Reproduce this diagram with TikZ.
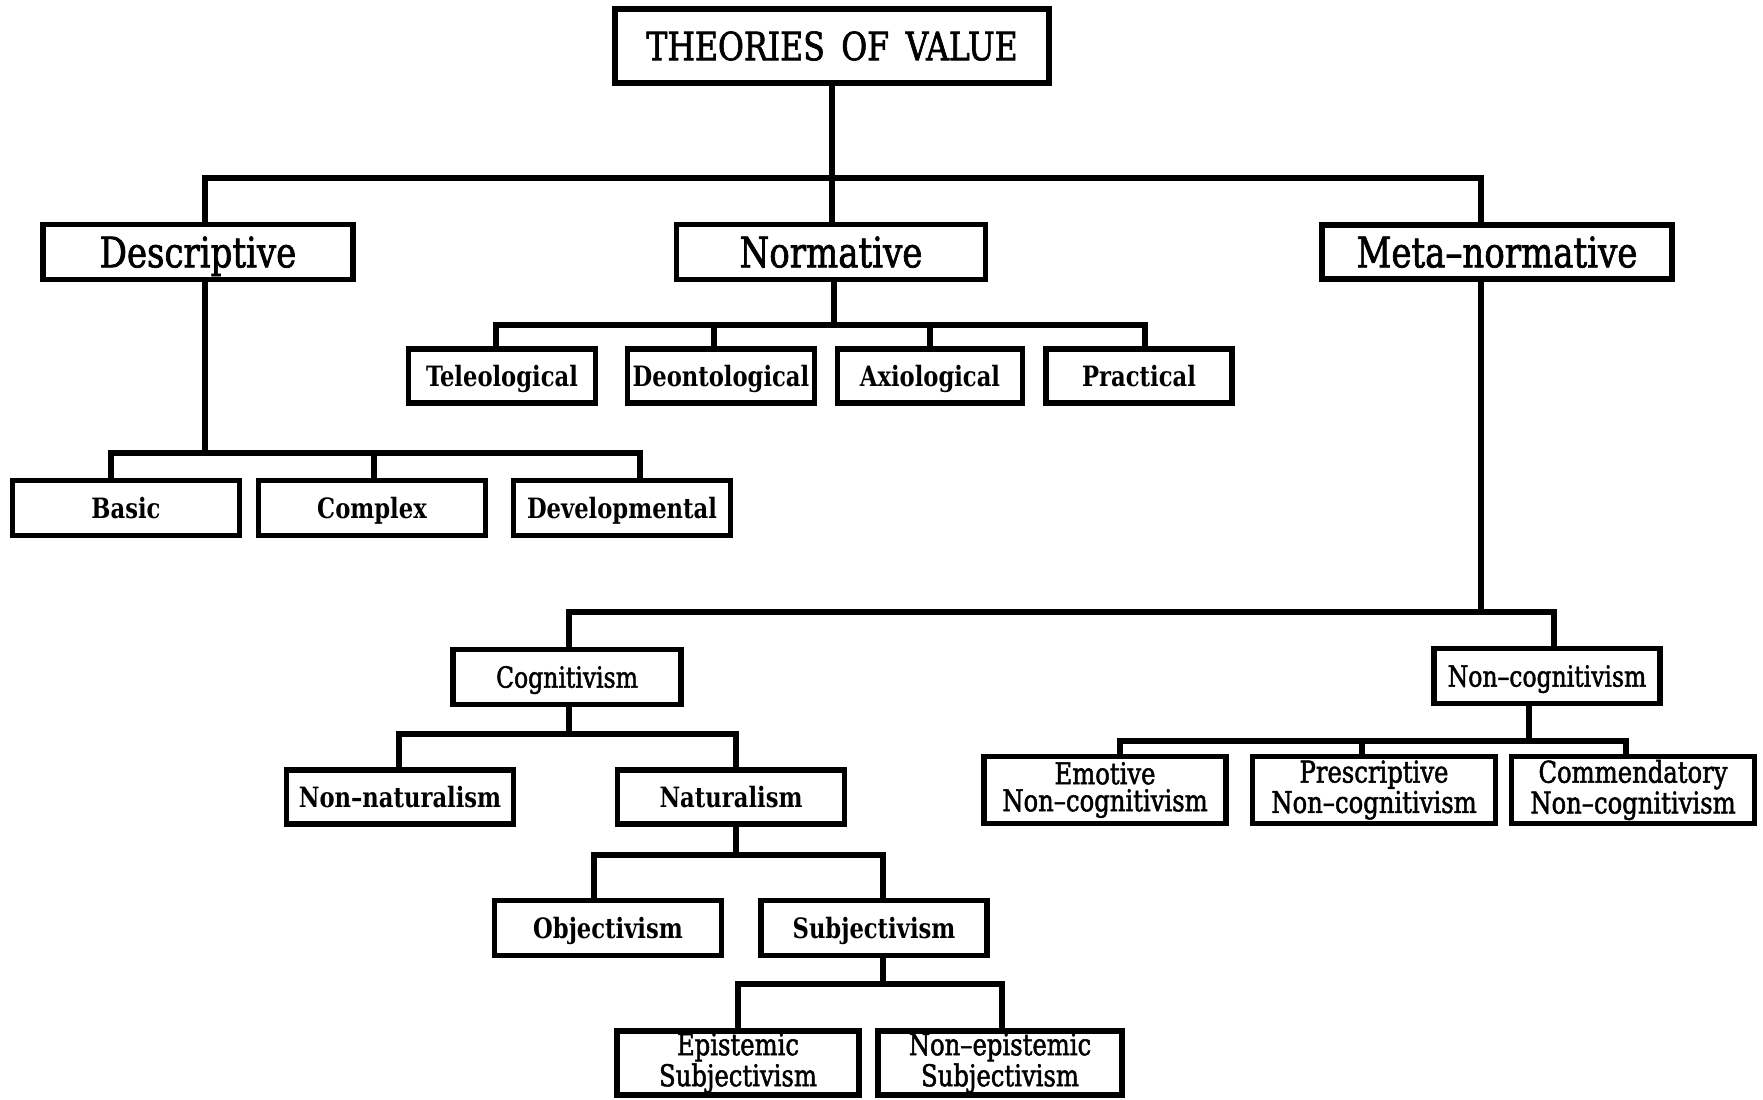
\documentclass[tikz,border=0pt]{standalone}
\usepackage{fontspec}
\setmainfont{DejaVu Serif Condensed}[FakeStretch=0.9]
\newfontfamily\medfont{DejaVu Serif Condensed}[FakeStretch=0.9, FakeBold=1.6]
\begin{document}
\begin{tikzpicture}[x=0.5pt,y=-0.5pt]
\tikzset{
  box/.style={draw, line width=2.8pt, inner sep=0pt, align=center, fill=white},
  link/.style={line width=2.7pt, line cap=rect, line join=miter},
  titlebox/.style={box, text height=18.1pt, text depth=3.9pt, font=\medfont\fontsize{19.5}{22}\selectfont},
  bigbox/.style={box, text height=19.5pt, text depth=4.2pt, font=\medfont\fontsize{21}{23}\selectfont},
  smallbox/.style={box, text height=13pt, text depth=2.8pt, font=\bfseries\fontsize{14}{16}\selectfont},
  midbox/.style={box, text height=13.5pt, text depth=2.9pt, font=\medfont\fontsize{14.5}{16}\selectfont},
  twobox/.style={box, font=\medfont\fontsize{15}{13.5}\selectfont},
}
\useasboundingbox (0,0) rectangle (1763,1099);
\fill[white] (0,0) rectangle (1763,1099);

% nodes
\node[titlebox, minimum width=217pt, minimum height=37pt] (title) at (832,46) {THEORIES\, OF\, VALUE};
\node[bigbox, minimum width=155pt, minimum height=27.5pt] (desc) at (198,252) {Descriptive};
\node[bigbox, minimum width=154.5pt, minimum height=27.5pt] (norm) at (831,252) {Normative};
\node[bigbox, minimum width=175pt, minimum height=27pt] (meta) at (1497,252) {Meta–normative};

\node[smallbox, minimum width=113.5pt, minimum height=27.5pt] (basic) at (126,508) {Basic};
\node[smallbox, minimum width=113.5pt, minimum height=27.5pt] (complex) at (372,508) {Complex};
\node[smallbox, minimum width=108.5pt, minimum height=27.5pt] (devel) at (622,508) {Developmental};

\node[smallbox, minimum width=93.5pt, minimum height=27pt] (tele) at (502,376) {Teleological};
\node[smallbox, minimum width=93.5pt, minimum height=27pt] (deon) at (721,376) {Deontological};
\node[smallbox, minimum width=92.5pt, minimum height=27pt] (axio) at (930,376) {Axiological};
\node[smallbox, minimum width=93pt, minimum height=27pt] (prac) at (1139,376) {Practical};

\node[midbox, minimum width=114pt, minimum height=27.5pt] (cog) at (567,677) {Cognitivism};
\node[midbox, minimum width=113pt, minimum height=27.5pt] (noncog) at (1547,676) {Non–cognitivism};

\node[smallbox, minimum width=113.5pt, minimum height=27pt] (nonnat) at (400,797) {Non–naturalism};
\node[smallbox, minimum width=113.5pt, minimum height=27pt] (nat) at (731,797) {Naturalism};

\node[smallbox, minimum width=113.5pt, minimum height=27.5pt] (obj) at (608,928) {Objectivism};
\node[smallbox, minimum width=113pt, minimum height=27.5pt] (subj) at (874,928) {Subjectivism};

\node[twobox, minimum width=121pt, minimum height=32pt] (epi) at (738,1063) {Epistemic\\Subjectivism};
\node[twobox, minimum width=122pt, minimum height=32pt] (nonepi) at (1000,1063) {Non–epistemic\\Subjectivism};

\node[twobox, minimum width=121pt, minimum height=33.5pt] (emo) at (1105,790) {Emotive\\Non–cognitivism};
\node[twobox, minimum width=121.5pt, minimum height=33.5pt] (pres) at (1374,790) {Prescriptive\\Non–cognitivism};
\node[twobox, minimum width=121.5pt, minimum height=33.5pt] (comm) at (1633,790) {Commendatory\\Non–cognitivism};

% junction coordinates
\coordinate (t0) at (832,178);
\coordinate (tL) at (205,178);
\coordinate (tR) at (1481,178);

\coordinate (d0) at (205,453);
\coordinate (dL) at (111,453);
\coordinate (dM) at (374,453);
\coordinate (dR) at (640,453);

\coordinate (n0) at (834,325);
\coordinate (nA) at (496,325);
\coordinate (nB) at (714,325);
\coordinate (nC) at (930,325);
\coordinate (nD) at (1145,325);

\coordinate (m0) at (1481,612);
\coordinate (mL) at (569,612);
\coordinate (mR) at (1554,612);

\coordinate (c0) at (569,734);
\coordinate (cL) at (399,734);
\coordinate (cR) at (736,734);

\coordinate (a0) at (736,855);
\coordinate (aL) at (594,855);
\coordinate (aR) at (883,855);

\coordinate (s0) at (883,984);
\coordinate (sL) at (738,984);
\coordinate (sR) at (1002,984);

\coordinate (k0) at (1529,741);
\coordinate (kL) at (1120,741);
\coordinate (kM) at (1362,741);
\coordinate (kR) at (1626,741);

% connectors
\draw[link] (title.south) -- (t0) -- (t0 |- norm.north);
\draw[link] (tL |- desc.north) -- (tL) -- (tR) -- (tR |- meta.north);

\draw[link] (d0 |- desc.south) -- (d0);
\draw[link] (dL |- basic.north) -- (dL) -- (dR) -- (dR |- devel.north);
\draw[link] (dM) -- (dM |- complex.north);

\draw[link] (n0 |- norm.south) -- (n0);
\draw[link] (nA |- tele.north) -- (nA) -- (nD) -- (nD |- prac.north);
\draw[link] (nB) -- (nB |- deon.north);
\draw[link] (nC) -- (nC |- axio.north);

\draw[link] (m0 |- meta.south) -- (m0);
\draw[link] (mL |- cog.north) -- (mL) -- (mR) -- (mR |- noncog.north);

\draw[link] (c0 |- cog.south) -- (c0);
\draw[link] (cL |- nonnat.north) -- (cL) -- (cR) -- (cR |- nat.north);

\draw[link] (a0 |- nat.south) -- (a0);
\draw[link] (aL |- obj.north) -- (aL) -- (aR) -- (aR |- subj.north);

\draw[link] (s0 |- subj.south) -- (s0);
\draw[link] (sL |- epi.north) -- (sL) -- (sR) -- (sR |- nonepi.north);

\draw[link] (k0 |- noncog.south) -- (k0);
\draw[link] (kL |- emo.north) -- (kL) -- (kR) -- (kR |- comm.north);
\draw[link] (kM) -- (kM |- pres.north);
\end{tikzpicture}
\end{document}
